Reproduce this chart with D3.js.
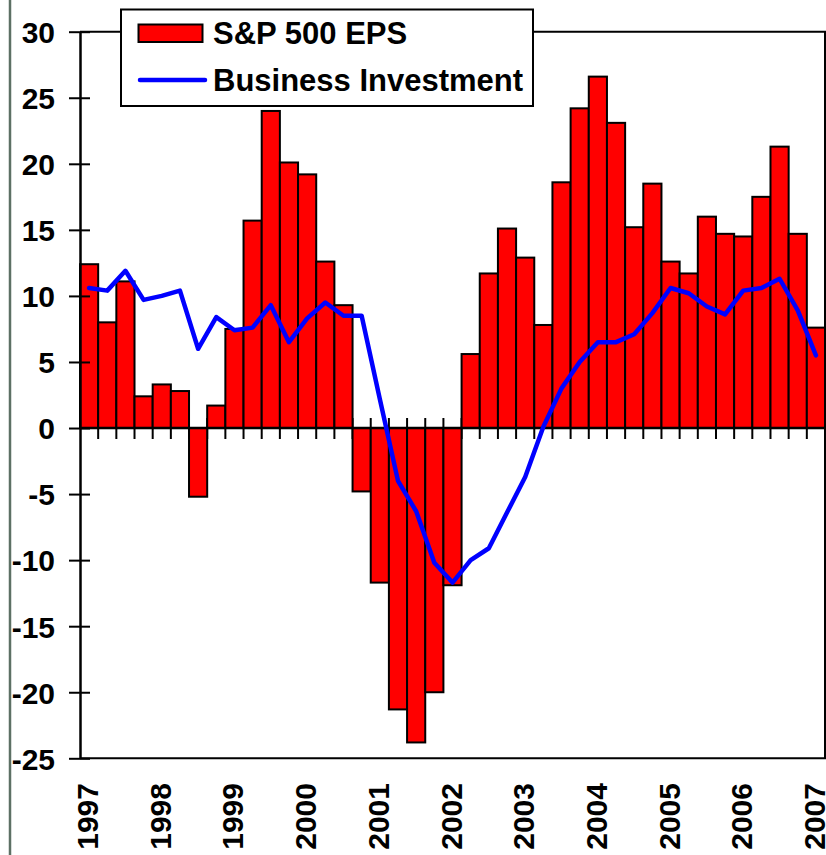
<!DOCTYPE html>
<html>
<head>
<meta charset="utf-8">
<script src="https://cdn.jsdelivr.net/npm/d3@7"></script>
<style>
  html, body { margin: 0; padding: 0; background: #fff; }
  svg { display: block; font-family: "Liberation Sans", Arial, sans-serif; font-weight: bold; }
</style>
</head>
<body>
<svg id="chart" width="826" height="855"></svg>
<script>
// Quarterly categories 1997Q1 .. 2007Q1
const quarters = [
  "1997Q1","1997Q2","1997Q3","1997Q4",
  "1998Q1","1998Q2","1998Q3","1998Q4",
  "1999Q1","1999Q2","1999Q3","1999Q4",
  "2000Q1","2000Q2","2000Q3","2000Q4",
  "2001Q1","2001Q2","2001Q3","2001Q4",
  "2002Q1","2002Q2","2002Q3","2002Q4",
  "2003Q1","2003Q2","2003Q3","2003Q4",
  "2004Q1","2004Q2","2004Q3","2004Q4",
  "2005Q1","2005Q2","2005Q3","2005Q4",
  "2006Q1","2006Q2","2006Q3","2006Q4",
  "2007Q1"
];
// S&P 500 EPS growth (%)
const epsValues = [
  12.4, 8.0, 11.1, 2.4,
  3.3, 2.8, -5.2, 1.7,
  7.5, 15.7, 24.0, 20.1,
  19.2, 12.6, 9.3, -4.8,
  -11.7, -21.3, -23.8, -20.0,
  -11.9, 5.6, 11.7, 15.1,
  12.9, 7.8, 18.6, 24.2,
  26.6, 23.1, 15.2, 18.5,
  12.6, 11.7, 16.0, 14.7,
  14.5, 17.5, 21.3, 14.7,
  7.6
];
// Business investment growth (%)
const investValues = [
  10.6, 10.4, 11.9, 9.7,
  10.0, 10.4, 6.0, 8.4,
  7.4, 7.6, 9.3, 6.5,
  8.3, 9.5, 8.5, 8.5,
  2.2, -4.0, -6.3, -10.2,
  -11.7, -10.0, -9.1, -6.4,
  -3.7, 0.1, 3.0, 5.0,
  6.5, 6.5, 7.1, 8.7,
  10.6, 10.2, 9.2, 8.6,
  10.4, 10.6, 11.3, 8.9,
  5.5
];
const yTicks = [30, 25, 20, 15, 10, 5, 0, -5, -10, -15, -20, -25];
const yearLabels = ["1997","1998","1999","2000","2001","2002","2003","2004","2005","2006","2007"];
const seriesNames = ["S&P 500 EPS", "Business Investment"];

(function () {
const svg = d3.select("#chart");
const plotLeft = 80, plotRight = 825, plotTop = 31.7, plotBottom = 758.3;

const x = d3.scaleBand().domain(quarters).range([plotLeft, plotRight]).padding(0);
const y = d3.scaleLinear().domain([-25, 30]).range([plotBottom, plotTop]);

// gray frame line at far left
svg.append("line").attr("x1", 10).attr("x2", 10).attr("y1", 0).attr("y2", 855)
  .attr("stroke", "#5d7064").attr("stroke-width", 2.5);

// plot border (top and right)
svg.append("path")
  .attr("d", `M${plotLeft},${y(30)}H${plotRight}V${y(-25)}H${plotLeft}`)
  .attr("fill", "none").attr("stroke", "#000").attr("stroke-width", 2);

// category ticks crossing the zero line
const boundaries = quarters.map(q => x(q)).slice(1);
svg.append("g").selectAll("line").data(boundaries).join("line")
  .attr("x1", d => d).attr("x2", d => d)
  .attr("y1", y(0) - 10).attr("y2", y(0) + 11)
  .attr("stroke", "#000").attr("stroke-width", 2);

// bars
svg.append("g").selectAll("rect").data(quarters).join("rect")
  .attr("x", q => x(q))
  .attr("width", x.bandwidth())
  .attr("y", (q, i) => y(Math.max(0, epsValues[i])))
  .attr("height", (q, i) => Math.abs(y(epsValues[i]) - y(0)))
  .attr("fill", "#ff0000")
  .attr("stroke", "#000").attr("stroke-width", 2);

// zero line
svg.append("line").attr("x1", plotLeft).attr("x2", plotRight)
  .attr("y1", y(0)).attr("y2", y(0))
  .attr("stroke", "#000").attr("stroke-width", 2.5);

// y axis
const yAxis = d3.axisLeft(y).tickValues(yTicks).tickSize(0).tickFormat(d3.format("d"));
const gy = svg.append("g").attr("transform", `translate(${plotLeft},0)`).call(yAxis);
gy.select(".domain").attr("stroke", "#000").attr("stroke-width", 2.5);
gy.selectAll(".tick line").remove();
gy.selectAll(".tick").append("line")
  .attr("x1", -11).attr("x2", 10).attr("stroke", "#000").attr("stroke-width", 2);
gy.selectAll(".tick text")
  .attr("x", -25).attr("dy", "0.36em")
  .attr("font-size", 30).attr("font-weight", "bold")
  .attr("font-family", "'Liberation Sans', Arial, sans-serif")
  .attr("fill", "#000")
  .text(d => d < 0 ? "-" + Math.abs(d) : d);

// year labels under first quarter of each year
const yearQuarters = yearLabels.map(yr => yr + "Q1");
svg.append("g").selectAll("text").data(yearQuarters).join("text")
  .attr("transform", q => `translate(${x(q) + x.bandwidth() / 2 - 1.5},783) rotate(-90)`)
  .attr("text-anchor", "end")
  .attr("dy", "0.35em")
  .attr("font-size", 30)
  .attr("fill", "#000")
  .text((q, i) => yearLabels[i]);

// business investment line
const line = d3.line()
  .x((d, i) => x(quarters[i]) + x.bandwidth() / 2)
  .y(d => y(d));
svg.append("path").datum(investValues)
  .attr("d", line)
  .attr("fill", "none")
  .attr("stroke", "#0000ff")
  .attr("stroke-width", 4.5)
  .attr("stroke-linejoin", "round")
  .attr("stroke-linecap", "round");

// legend
const lg = svg.append("g");
lg.append("rect").attr("x", 121).attr("y", 9.5).attr("width", 412).attr("height", 96.5)
  .attr("fill", "#fff").attr("stroke", "#000").attr("stroke-width", 2);
lg.append("rect").attr("x", 138.5).attr("y", 24.5).attr("width", 64).attr("height", 17.5)
  .attr("fill", "#ff0000").attr("stroke", "#000").attr("stroke-width", 2);
lg.append("text").attr("x", 213).attr("y", 43.5).attr("font-size", 31).attr("fill", "#000")
  .text(seriesNames[0]);
lg.append("line").attr("x1", 140).attr("x2", 205).attr("y1", 80).attr("y2", 80)
  .attr("stroke", "#0000ff").attr("stroke-width", 4.5).attr("stroke-linecap", "round");
lg.append("text").attr("x", 213).attr("y", 90.5).attr("font-size", 31).attr("fill", "#000")
  .text(seriesNames[1]);
})();
</script>
</body>
</html>
